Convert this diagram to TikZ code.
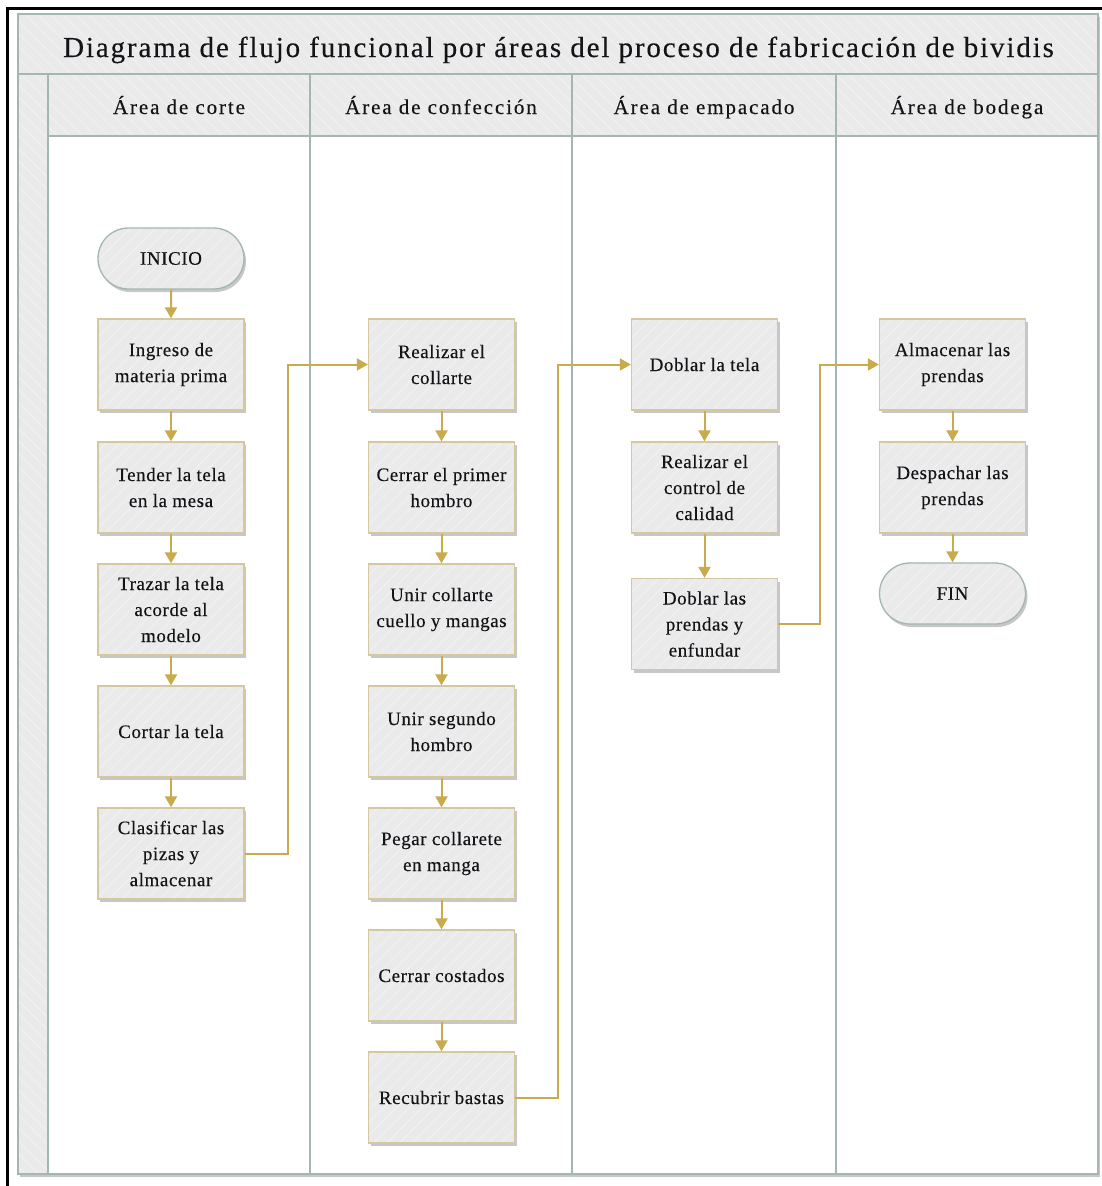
\documentclass[tikz,border=0pt]{standalone}
\usepackage{fontspec}
\setmainfont{Liberation Serif}
\newfontfamily\titlefont[LetterSpace=6.4,FakeBold=0.3]{Liberation Serif}
\newfontfamily\headfont[LetterSpace=9,FakeBold=0.3]{Liberation Serif}
\newfontfamily\boxfont[LetterSpace=3,FakeBold=0.3]{Liberation Serif}
\usetikzlibrary{arrows.meta,shadows,patterns.meta,shapes.misc}

\definecolor{poolline}{RGB}{163,182,176}
\definecolor{bandfill}{RGB}{234,234,234}
\definecolor{stripe}{RGB}{241,241,241}
\definecolor{boxedge}{RGB}{212,200,160}
\definecolor{flow}{RGB}{201,170,76}
\definecolor{ink}{RGB}{20,20,24}

\tikzset{
  hatch/.style={preaction={fill=bandfill},
    pattern={Lines[angle=-45,distance=9pt,line width=1pt]}, pattern color=stripe},
  boxhatch/.style={preaction={fill=bandfill},
    pattern={Lines[angle=45,distance=9pt,line width=1pt]}, pattern color=stripe},
  soft shadow/.style={drop shadow={shadow xshift=2pt, shadow yshift=-3pt,
    fill=black, opacity=0.22}},
  stepbox/.style={rectangle, minimum width=146pt, minimum height=91pt,
    inner sep=0pt, draw=boxedge, line width=1.3pt, soft shadow, boxhatch,
    align=center, text=ink, font=\boxfont\fontsize{19}{26}\selectfont},
  terminal/.style={rounded rectangle, minimum width=146pt, minimum height=61pt,
    inner sep=0pt, draw=poolline, line width=1.3pt, soft shadow, boxhatch,
    align=center, text=ink, font=\boxfont\fontsize{19}{26}\selectfont},
  flowline/.style={draw=flow, line width=2pt,
    -{Triangle[width=12pt,length=11pt]}},
  laneline/.style={draw=poolline, line width=2pt},
  heading/.style={text=ink, inner sep=0pt, anchor=base,
    font=\headfont\fontsize{21}{25}\selectfont},
}

\begin{document}
\begin{tikzpicture}[x=1pt,y=-1pt]
  \useasboundingbox (0,0) rectangle (1102,1186);
  \fill[white] (0,0) rectangle (1102,1186);

  % outer frame (left and top edges)
  \draw[black, line width=2.6pt] (7.5,1186) -- (7.5,8.5) -- (1102,8.5);

  % pool body, title band, header row and left band
  \fill[white, soft shadow] (18,14) rectangle (1098,1174);
  \path[hatch] (18,14) rectangle (1098,74);
  \path[hatch] (48,74) rectangle (1098,136);
  \path[hatch] (18,74) rectangle (48,1174);

  \draw[laneline] (18,14) rectangle (1098,1174);
  \draw[laneline] (18,74) -- (1098,74);
  \draw[laneline] (48,136) -- (1098,136);
  \draw[laneline] (48,74) -- (48,1174);
  \draw[laneline] (310,74) -- (310,1174);
  \draw[laneline] (572,74) -- (572,1174);
  \draw[laneline] (836,74) -- (836,1174);

  % title and lane headings
  \node[text=ink, inner sep=0pt, anchor=base, font=\titlefont\fontsize{29}{34}\selectfont]
    (title) at (558.5,57) {Diagrama de flujo funcional por áreas del proceso de fabricación de bividis};
  \node[heading] (h1) at (179,114) {Área de corte};
  \node[heading] (h2) at (441,114) {Área de confección};
  \node[heading] (h3) at (704,114) {Área de empacado};
  \node[heading] (h4) at (967,114) {Área de bodega};

  % Área de corte
  \node[terminal] (inicio) at (171,258.5) {INICIO};
  \node[stepbox] (c1) at (171,364.5) {Ingreso de\\materia prima};
  \node[stepbox] (c2) at (171,487.5) {Tender la tela\\en la mesa};
  \node[stepbox] (c3) at (171,609.5) {Trazar la tela\\acorde al\\modelo};
  \node[stepbox] (c4) at (171,731.5) {Cortar la tela};
  \node[stepbox] (c5) at (171,853.5) {Clasificar las\\pizas y\\almacenar};

  % Área de confección
  \node[stepbox] (f1) at (441.5,364.5) {Realizar el\\collarte};
  \node[stepbox] (f2) at (441.5,487.5) {Cerrar el primer\\hombro};
  \node[stepbox] (f3) at (441.5,609.5) {Unir collarte\\cuello y mangas};
  \node[stepbox] (f4) at (441.5,731.5) {Unir segundo\\hombro};
  \node[stepbox] (f5) at (441.5,853.5) {Pegar collarete\\en manga};
  \node[stepbox] (f6) at (441.5,975.5) {Cerrar costados};
  \node[stepbox] (f7) at (441.5,1097.5) {Recubrir bastas};

  % Área de empacado
  \node[stepbox] (e1) at (704.5,364.5) {Doblar la tela};
  \node[stepbox] (e2) at (704.5,487.5) {Realizar el\\control de\\calidad};
  \node[stepbox] (e3) at (704.5,624) {Doblar las\\prendas y\\enfundar};

  % Área de bodega
  \node[stepbox] (b1) at (952.5,364.5) {Almacenar las\\prendas};
  \node[stepbox] (b2) at (952.5,487.5) {Despachar las\\prendas};
  \node[terminal] (fin) at (952.5,593.5) {FIN};

  % connectors inside each lane
  \draw[flowline] (inicio) -- (c1);
  \draw[flowline] (c1) -- (c2);
  \draw[flowline] (c2) -- (c3);
  \draw[flowline] (c3) -- (c4);
  \draw[flowline] (c4) -- (c5);
  \draw[flowline] (f1) -- (f2);
  \draw[flowline] (f2) -- (f3);
  \draw[flowline] (f3) -- (f4);
  \draw[flowline] (f4) -- (f5);
  \draw[flowline] (f5) -- (f6);
  \draw[flowline] (f6) -- (f7);
  \draw[flowline] (e1) -- (e2);
  \draw[flowline] (e2) -- (e3);
  \draw[flowline] (b1) -- (b2);
  \draw[flowline] (b2) -- (fin);

  % connectors between lanes
  \draw[flowline] (c5.east) -- (288,853.5) -- (288,364.5) -- (f1.west);
  \draw[flowline] (f7.east) -- (557.5,1097.5) -- (557.5,364.5) -- (e1.west);
  \draw[flowline] (e3.east) -- (820,624) -- (820,364.5) -- (b1.west);
\end{tikzpicture}
\end{document}
